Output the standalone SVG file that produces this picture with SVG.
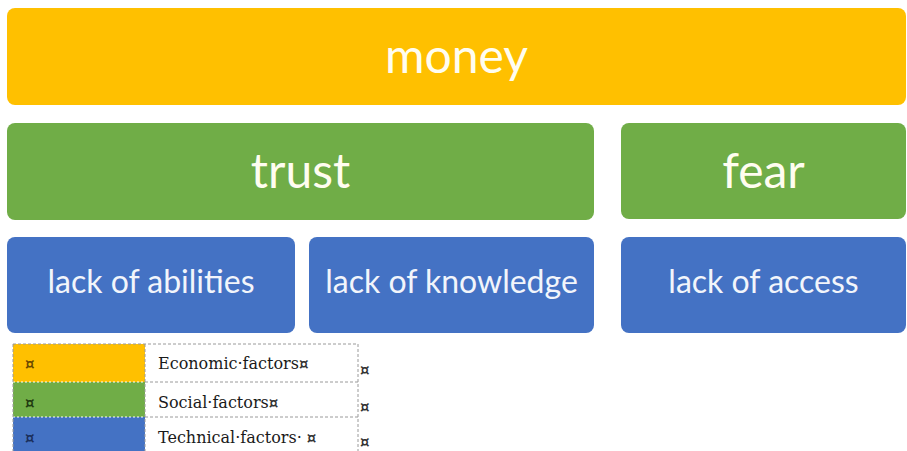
<svg xmlns="http://www.w3.org/2000/svg" width="907" height="451" viewBox="0 0 907 451">
  <style>
    .box { stroke: none; }
    .yellow { fill: #FFC000; }
    .green { fill: #70AD47; }
    .blue { fill: #4472C4; }
    .big { font-family: Lato, "Noto Sans", sans-serif; font-size: 48px; fill: #FFFDF0; text-anchor: middle; }
    .mid { font-family: Lato, "Noto Sans", sans-serif; font-size: 32px; fill: #F2F5FB; text-anchor: middle; }
    .cell { font-family: "DejaVu Serif", "Liberation Serif", serif; font-size: 16px; fill: #1A1A1A; }
    .mark { font-family: "DejaVu Serif", "Liberation Serif", serif; font-size: 15px; font-weight: bold; fill: #333333; }
    .grid { stroke: #9A9A9A; stroke-width: 1; stroke-dasharray: 3 2; fill: none; }
    .sep { stroke: #FFFFFF; stroke-width: 1; stroke-dasharray: 2 2; }
  </style>

  <!-- top level -->
  <g id="money">
    <rect class="box yellow" x="7" y="8" width="899" height="97" rx="8"/>
    <text class="big" x="456.5" y="73">money</text>
  </g>

  <!-- second level -->
  <g id="trust">
    <rect class="box green" x="7" y="123" width="587" height="97" rx="8"/>
    <text class="big" x="300.5" y="188">trust</text>
  </g>
  <g id="fear">
    <rect class="box green" x="621" y="123" width="285" height="96" rx="8"/>
    <text class="big" x="763.5" y="188">fear</text>
  </g>

  <!-- third level -->
  <g id="lack-of-abilities">
    <rect class="box blue" x="7" y="237" width="288" height="96" rx="8"/>
    <text class="mid" x="151" y="293">lack of abilities</text>
  </g>
  <g id="lack-of-knowledge">
    <rect class="box blue" x="309" y="237" width="285" height="96" rx="8"/>
    <text class="mid" x="451.5" y="293">lack of knowledge</text>
  </g>
  <g id="lack-of-access">
    <rect class="box blue" x="621" y="237" width="285" height="96" rx="8"/>
    <text class="mid" x="763.5" y="293">lack of access</text>
  </g>

  <!-- no connectors in this layout -->
  <g id="connectors"></g>

  <!-- colour legend table -->
  <g id="legend">
    <rect class="yellow" x="13" y="344" width="132" height="38"/>
    <rect class="green" x="13" y="382" width="132" height="35"/>
    <rect class="blue" x="13" y="417" width="132" height="40"/>
    <line class="sep" x1="13" y1="382" x2="145" y2="382"/>
    <line class="sep" x1="13" y1="417" x2="145" y2="417"/>

    <path class="grid" d="M13 344 H358 M145 382 H358 M145 417 H358 M13 344 V451 M358 344 V451 M145 344 V451"/>

    <text class="mark" x="25" y="369" style="fill:#6B4A00">¤</text>
    <text class="mark" x="25" y="408" style="fill:#1F3A10">¤</text>
    <text class="mark" x="25" y="443" style="fill:#1A2E5A">¤</text>

    <text class="cell" x="158" y="369">Economic·factors<tspan class="mark">¤</tspan></text>
    <text class="cell" x="158" y="408">Social·factors<tspan class="mark">¤</tspan></text>
    <text class="cell" x="158" y="443">Technical·factors· <tspan class="mark">¤</tspan></text>

    <text class="mark" x="360" y="375">¤</text>
    <text class="mark" x="360" y="412">¤</text>
    <text class="mark" x="360" y="447">¤</text>
  </g>
</svg>
